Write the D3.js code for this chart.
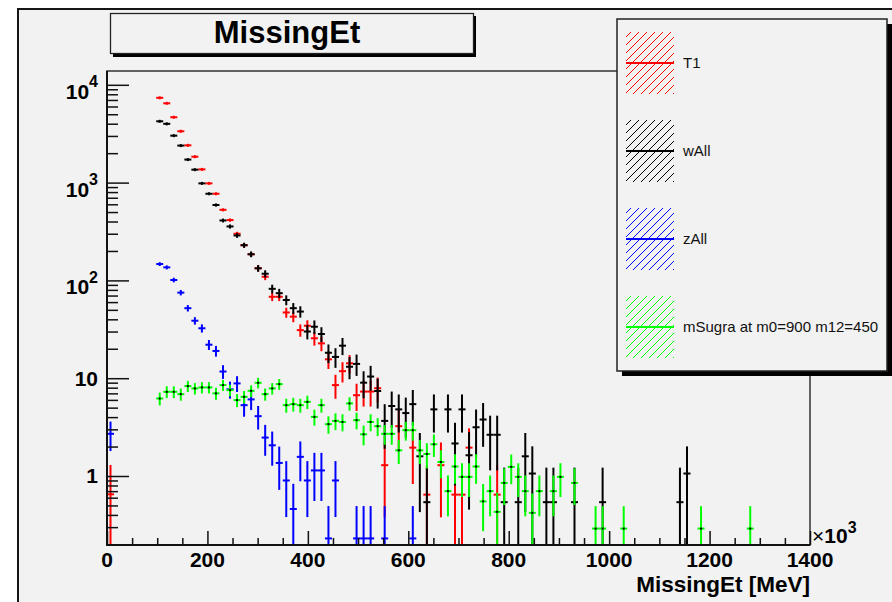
<!DOCTYPE html>
<html>
<head>
<meta charset="utf-8">
<script src="https://cdn.jsdelivr.net/npm/d3@7"></script>
<style>
  body { margin: 0; background: #ffffff; }
  svg { display: block; font-family: "Liberation Sans", Arial, Helvetica, sans-serif; }
</style>
</head>
<body>
<svg id="chart" width="892" height="602"></svg>
<script>
// histogram binning: 100 bins of 14 (x10^3 MeV) from 0 to 1400
var binWidth = 14;
var xTicks = [0, 200, 400, 600, 800, 1000, 1200, 1400];
var yDecades = [1, 10, 100, 1000, 10000];

var seriesNames = ["T1", "wAll", "zAll", "mSugra at m0=900 m12=450"];
var seriesColors = ["#ff0000", "#000000", "#0000ff", "#00ff00"];
// approximate per-event weight of each sample, used for the sqrt(sum w^2) error bars
var seriesWeights = [0.645, 0.85, 0.3, 0.14];

// bin contents, index = bin number (0 = empty bin)
var t1Values = [
  0.65, 0, 0, 0, 0, 0, 0, 7360, 6470, 4660,
  3350, 2405, 1840, 1365, 982, 769, 527, 414, 300, 229,
  185, 133, 109, 68, 68, 47, 42.6, 31, 34.4, 25.6,
  22.7, 15.6, 8.5, 11.8, 14.2, 6.7, 7.3, 7.3, 7.9, 1.29,
  0, 3.23, 0, 1.95, 0, 0.645, 0, 1.29, 0, 0.645,
  0.645, 1.95, 0, 0, 0, 0.645
];
var wAllValues = [
  0, 0, 0, 0, 0, 0, 0, 4236, 3990, 3020,
  2390, 1720, 1356, 982, 769, 590, 410, 356, 288, 229,
  185, 133, 117, 82, 74, 63, 52, 48, 30, 33.6,
  28.3, 18.2, 16.5, 21.5, 13.1, 14, 9.0, 10.4, 7.4, 3.66,
  5.2, 4.8, 4.4, 5.43, 1.59, 0.54, 4.8, 0, 4.8, 2.15,
  4.8, 1.63, 3.15, 3.78, 2.64, 2.64, 0.54, 0, 0.54, 1.59,
  1.06, 0, 0.54, 0.54, 0, 0, 0.54, 0, 0, 0,
  0.54, 0, 0, 0, 0, 0, 0, 0, 0, 0,
  0, 0.54, 1.06
];
var zAllValues = [
  2.7, 0, 0, 0, 0, 0, 0, 147, 136, 101,
  75, 52, 38.7, 32.4, 22, 19, 11.7, 7.7, 8.85, 5.3,
  6.07, 4.09, 2.47, 2.06, 1.36, 0.9, 0.46, 1.57, 0.9, 1.14,
  1.14, 0.23, 0.9, 0, 0, 0.23, 0.23, 0.23, 0, 0.23,
  0, 0, 0, 0.23
];
var mSugraValues = [
  0, 0, 0, 0, 0, 0, 0, 6.2, 7.26, 7.26,
  6.87, 8.3, 7.86, 8.05, 8.05, 7.0, 8.5, 7.55, 5.97, 6.45,
  7.43, 8.97, 6.87, 7.86, 8.7, 5.3, 5.43, 5.3, 5.73, 4.02,
  5.3, 3.39, 3.66, 3.57, 5.52, 3.72, 2.67, 3.57, 3.23, 2.7,
  2.7, 1.83, 2.94, 2.94, 1.83, 1.68, 2.11, 1.39, 0.7, 1.25,
  0.98, 0.98, 1.25, 0.55, 0.7, 0.43, 0.85, 1.24, 0.98, 0.7,
  0.42, 0.7, 0, 0.7, 0.98, 0, 0.85, 0, 0, 0.29,
  0.29, 0, 0, 0.29, 0, 0, 0, 0, 0, 0,
  0, 0, 0, 0, 0.29, 0, 0, 0, 0, 0,
  0, 0.29
];

(function(d3) {

  var allValues = [t1Values, wAllValues, zAllValues, mSugraValues];

  var svg = d3.select("#chart");
  var frame = { left: 107, right: 810, top: 71, bottom: 545 };

  var x = d3.scaleLinear()
    .domain([0, 1400])
    .range([frame.left, frame.right]);

  var y = d3.scaleLog()
    .domain([0.197, 13840])
    .range([frame.bottom, frame.top]);

  init();

  function init() {
    drawCanvas();
    drawTitle();
    drawFrame();
    drawHistograms();
    drawAxes();
    drawLegend();
  }

  function drawCanvas() {
    svg.append("rect")
      .attr("x", 18).attr("y", 9)
      .attr("width", 890).attr("height", 610)
      .attr("fill", "#f2f2f2")
      .attr("stroke", "#151515")
      .attr("stroke-width", 2);

    var defs = svg.append("defs");
    defs.append("clipPath")
        .attr("id", "clip")
      .append("rect")
        .attr("x", frame.left)
        .attr("y", frame.top)
        .attr("width", frame.right - frame.left)
        .attr("height", frame.bottom - frame.top);

    seriesColors.forEach(function(color, k) {
      var pattern = defs.append("pattern")
        .attr("id", "hatch" + k)
        .attr("patternUnits", "userSpaceOnUse")
        .attr("width", 8)
        .attr("height", 8);
      pattern.append("path")
        .attr("d", "M-2,2 L2,-2 M0,8 L8,0 M6,10 L10,6")
        .attr("stroke", color)
        .attr("stroke-width", 1);
    });
  }

  function drawTitle() {
    svg.append("rect")
      .attr("x", 113).attr("y", 16)
      .attr("width", 363).attr("height", 41)
      .attr("fill", "#000");
    svg.append("rect")
      .attr("x", 110.5).attr("y", 13.5)
      .attr("width", 363).attr("height", 40)
      .attr("fill", "#f2f2f2")
      .attr("stroke", "#222")
      .attr("stroke-width", 1.3);
    svg.append("text")
      .attr("x", 287).attr("y", 43)
      .attr("text-anchor", "middle")
      .attr("font-weight", "bold")
      .attr("font-size", 31)
      .attr("fill", "#000")
      .text("MissingEt");
  }

  function drawFrame() {
    svg.append("rect")
      .attr("x", frame.left).attr("y", frame.top)
      .attr("width", frame.right - frame.left)
      .attr("height", frame.bottom - frame.top)
      .attr("fill", "none")
      .attr("stroke", "#333")
      .attr("stroke-width", 1.5);
  }

  function drawHistograms() {
    var plot = svg.append("g")
      .attr("clip-path", "url(#clip)");

    allValues.forEach(function(values, k) {
      var w = seriesWeights[k];
      var points = [];
      values.forEach(function(v, i) {
        if (v > 0) points.push({ bin: i, value: v, err: Math.sqrt(v * w) });
      });

      var g = plot.append("g")
        .attr("stroke", seriesColors[k])
        .attr("stroke-width", 2)
        .attr("fill", "none");

      g.selectAll(".hbar")
          .data(points)
        .enter().append("line")
          .attr("class", "hbar")
          .attr("x1", function(d) { return x(d.bin * binWidth); })
          .attr("x2", function(d) { return x((d.bin + 1) * binWidth); })
          .attr("y1", function(d) { return y(d.value); })
          .attr("y2", function(d) { return y(d.value); });

      g.selectAll(".vbar")
          .data(points)
        .enter().append("line")
          .attr("class", "vbar")
          .attr("x1", function(d) { return x((d.bin + 0.5) * binWidth); })
          .attr("x2", function(d) { return x((d.bin + 0.5) * binWidth); })
          .attr("y1", function(d) { return Math.min(y(d.value + d.err), y(d.value) - 1.5); })
          .attr("y2", function(d) {
            var lo = d.value - d.err;
            var yl = lo > 0 ? y(lo) : frame.bottom + 10;
            return Math.max(yl, y(d.value) + 1.5);
          });

      if (k === 3) {
        g.selectAll(".marker")
            .data(points)
          .enter().append("rect")
            .attr("class", "marker")
            .attr("x", function(d) { return x((d.bin + 0.5) * binWidth) - 1; })
            .attr("y", function(d) { return y(d.value) - 1; })
            .attr("width", 2).attr("height", 2)
            .attr("stroke", "none")
            .attr("fill", "#000");
      }
    });
  }

  function drawAxes() {
    var minorY = [];
    d3.range(-1, 5).forEach(function(p) {
      d3.range(2, 10).forEach(function(m) {
        var v = m * Math.pow(10, p);
        if (v >= y.domain()[0] && v <= y.domain()[1]) minorY.push(v);
      });
    });
    var minorX = d3.range(0, 1401, 50).filter(function(v) { return v % 200 !== 0; });

    var yMajor = svg.append("g")
      .attr("transform", "translate(" + frame.left + ",0)")
      .call(d3.axisRight(y).tickValues(yDecades).tickSize(22).tickSizeOuter(0).tickFormat(""));
    var yMinor = svg.append("g")
      .attr("transform", "translate(" + frame.left + ",0)")
      .call(d3.axisRight(y).tickValues(minorY).tickSize(11).tickSizeOuter(0).tickFormat(""));
    var xMajor = svg.append("g")
      .attr("transform", "translate(0," + frame.bottom + ")")
      .call(d3.axisTop(x).tickValues(xTicks).tickSize(14).tickSizeOuter(0).tickFormat(""));
    var xMinor = svg.append("g")
      .attr("transform", "translate(0," + frame.bottom + ")")
      .call(d3.axisTop(x).tickValues(minorX).tickSize(7).tickSizeOuter(0).tickFormat(""));

    [yMajor, yMinor, xMajor, xMinor].forEach(function(a) {
      a.select(".domain").remove();
      a.selectAll(".tick line").attr("stroke", "#111").attr("stroke-width", 1.5);
    });

    svg.append("line")
      .attr("x1", frame.left).attr("x2", frame.left)
      .attr("y1", frame.top).attr("y2", frame.bottom + 1)
      .attr("stroke", "#111").attr("stroke-width", 2);
    svg.append("line")
      .attr("x1", frame.left - 1).attr("x2", frame.right)
      .attr("y1", frame.bottom).attr("y2", frame.bottom)
      .attr("stroke", "#111").attr("stroke-width", 2);

    // y labels
    yDecades.forEach(function(v) {
      var exp = Math.round(Math.log10(v));
      var t = svg.append("text")
        .attr("x", 98)
        .attr("text-anchor", "end")
        .attr("font-weight", "bold")
        .attr("fill", "#000");
      if (v >= 100) {
        t.attr("y", y(v) + 14);
        t.append("tspan").attr("font-size", 21).text("10");
        t.append("tspan").attr("font-size", 16).attr("dy", -11.4).text(exp);
      } else {
        t.attr("y", y(v) + 7.5).attr("font-size", 21).text(v);
      }
    });

    // x labels
    svg.selectAll(".xlabel")
        .data(xTicks)
      .enter().append("text")
        .attr("class", "xlabel")
        .attr("x", function(d) { return x(d); })
        .attr("y", 567)
        .attr("text-anchor", "middle")
        .attr("font-weight", "bold")
        .attr("font-size", 21)
        .attr("fill", "#000")
        .text(function(d) { return d; });

    var mult = svg.append("text")
      .attr("x", 812).attr("y", 543)
      .attr("fill", "#000");
    mult.append("tspan").attr("font-size", 21).text("\u00d7");
    mult.append("tspan").attr("font-size", 21).attr("font-weight", "bold").text("10");
    mult.append("tspan").attr("font-size", 16).attr("font-weight", "bold").attr("dy", -10).text("3");

    svg.append("text")
      .attr("x", 810).attr("y", 592)
      .attr("text-anchor", "end")
      .attr("font-weight", "bold")
      .attr("font-size", 22.5)
      .attr("fill", "#000")
      .text("MissingEt [MeV]");
  }

  function drawLegend() {
    var box = { x: 617, y: 19, w: 270, h: 352 };
    svg.append("rect")
      .attr("x", box.x + 5).attr("y", box.y + 5)
      .attr("width", box.w).attr("height", box.h)
      .attr("fill", "#000");
    svg.append("rect")
      .attr("x", box.x).attr("y", box.y)
      .attr("width", box.w).attr("height", box.h)
      .attr("fill", "#f2f2f2")
      .attr("stroke", "#222")
      .attr("stroke-width", 1.5);

    var entry = svg.selectAll(".entry")
        .data(seriesNames)
      .enter().append("g")
        .attr("class", "entry")
        .attr("transform", function(d, k) { return "translate(0," + (63 + 88 * k) + ")"; });

    entry.append("rect")
      .attr("x", 626).attr("y", -31)
      .attr("width", 48).attr("height", 62)
      .attr("fill", function(d, k) { return "url(#hatch" + k + ")"; });

    entry.append("line")
      .attr("x1", 626).attr("x2", 674)
      .attr("y1", 0).attr("y2", 0)
      .attr("stroke", function(d, k) { return seriesColors[k]; })
      .attr("stroke-width", 2);

    entry.append("text")
      .attr("x", 683).attr("y", 5)
      .attr("font-size", 15)
      .attr("fill", "#111")
      .text(function(d) { return d; });
  }

})(window.d3);
</script>
</body>
</html>
